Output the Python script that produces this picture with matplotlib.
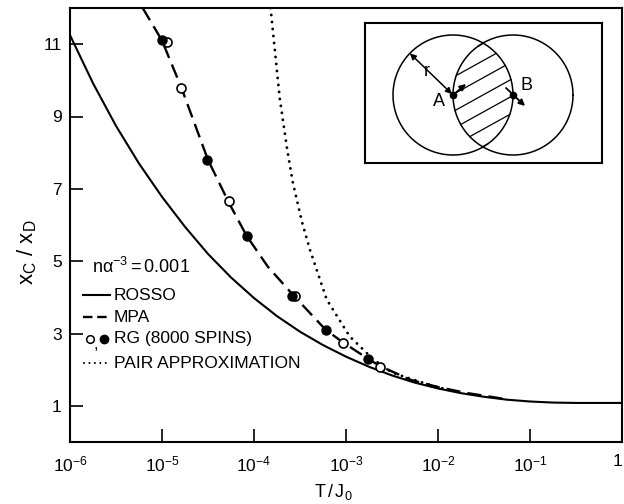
import numpy as np
import matplotlib
matplotlib.use("Agg")
import matplotlib.pyplot as plt
from matplotlib.ticker import FixedLocator, FixedFormatter, NullLocator

plt.rcParams['font.family'] = ['Liberation Sans', 'DejaVu Sans']
plt.rcParams['mathtext.fontset'] = 'custom'
plt.rcParams['mathtext.rm'] = 'Liberation Sans'
plt.rcParams['mathtext.it'] = 'Liberation Sans:italic'

# ---------------- data (x given as log10(T/J0)) ----------------
rosso_logT = [-6.0, -5.75, -5.5, -5.25, -5.0, -4.75, -4.5, -4.25, -4.0, -3.75, -3.5,
              -3.25, -3.0, -2.75, -2.5, -2.25, -2.0, -1.75, -1.5, -1.25, -1.0,
              -0.75, -0.5, 0.0]
rosso_y = [11.25, 9.92, 8.74, 7.7, 6.78, 5.95, 5.2, 4.55, 3.98, 3.48, 3.05,
           2.68, 2.36, 2.08, 1.84, 1.64, 1.48, 1.35, 1.25, 1.17, 1.12,
           1.09, 1.08, 1.08]

mpa_logT = [-5.21, -5.0, -4.79, -4.5, -4.27, -4.08, -3.85, -3.57, -3.22, -3.03,
            -2.76, -2.63, -2.3, -2.0, -1.7, -1.3]
mpa_y = [12.0, 11.1, 9.8, 7.8, 6.6, 5.7, 4.85, 4.05, 3.1, 2.75,
         2.3, 2.1, 1.72, 1.52, 1.36, 1.2]

pair_logT = [-3.82, -3.72, -3.64, -3.58, -3.48, -3.39, -3.21, -2.96, -2.71,
             -2.5, -2.3, -2.09, -1.9]
pair_y = [12.0, 9.5, 8.1, 7.2, 6.1, 5.3, 3.94, 2.92, 2.3,
          1.92, 1.75, 1.58, 1.45]

rg_open_logT = [-4.95, -4.79, -4.27, -3.55, -3.03, -2.63]
rg_open_y = [11.06, 9.78, 6.67, 4.05, 2.75, 2.08]
rg_fill_logT = [-5.0, -4.51, -4.08, -3.59, -3.22, -2.76]
rg_fill_y = [11.11, 7.8, 5.69, 4.03, 3.11, 2.3]

xtick_logT = [-6, -5, -4, -3, -2, -1, 0]
xtick_labels = [r'$\mathregular{10^{-6}}$', r'$\mathregular{10^{-5}}$',
                r'$\mathregular{10^{-4}}$', r'$\mathregular{10^{-3}}$',
                r'$\mathregular{10^{-2}}$', r'$\mathregular{10^{-1}}$', '1']
ytick_vals = [1, 3, 5, 7, 9, 11]
ytick_labels = ['1', '3', '5', '7', '9', '11']

legend_labels = ['ROSSO', 'MPA', 'RG (8000 SPINS)', 'PAIR APPROXIMATION']
density_label = r'$\mathregular{n\alpha^{-3}=0.001}$'

# ---------------- figure ----------------
fig = plt.figure(figsize=(6.24, 5.04), dpi=100)
ax = fig.add_axes([70/624, 62/504, 552/624, 434/504])

def T(v):
    return 10.0 ** np.asarray(v, dtype=float)

ax.plot(T(rosso_logT), rosso_y, color='black', lw=1.5, solid_capstyle='round',
        solid_joinstyle='round')
ax.plot(T(mpa_logT), mpa_y, color='black', lw=1.7, dashes=(6, 3))
ax.plot(T(pair_logT), pair_y, color='black', lw=2.1, linestyle=(0, (0.01, 2.4)),
        dash_capstyle='round')
ax.plot(T(rg_open_logT), rg_open_y, 'o', ms=6.5, mfc='white', mec='black', mew=1.2,
        zorder=5)
ax.plot(T(rg_fill_logT), rg_fill_y, 'o', ms=6.5, mfc='black', mec='black', zorder=6)

ax.set_xscale('log')
ax.set_xlim(1e-6, 1.0)
ax.set_ylim(0, 12)
ax.xaxis.set_major_locator(FixedLocator(list(T(xtick_logT))))
ax.xaxis.set_major_formatter(FixedFormatter(xtick_labels))
ax.xaxis.set_minor_locator(NullLocator())
ax.yaxis.set_major_locator(FixedLocator(ytick_vals))
ax.yaxis.set_major_formatter(FixedFormatter(ytick_labels))
ax.yaxis.set_minor_locator(NullLocator())
ax.tick_params(direction='in', length=9.5, width=1.2, labelsize=12.5, colors='black')
ax.tick_params(axis='x', pad=9)
ax.tick_params(axis='y', pad=6)
for s in ax.spines.values():
    s.set_linewidth(1.5)

fig.text(333/624, 1 - 492/504, r'$\mathregular{T\,/\,J_0}$', fontsize=13,
         ha='center', va='center')
fig.text(27/624, 1 - 252/504, r'$\mathregular{x_C\ /\ x_D}$', fontsize=16,
         ha='center', va='center', rotation=90)

# ---------------- manual legend ----------------
def fx(px):
    return (px - 70) / 552.0

def fy(py):
    return (442 - py) / 434.0

ax.text(fx(92), fy(267), density_label, transform=ax.transAxes, fontsize=13,
        ha='left', va='center')
rows = [295, 317, 339, 363]
ax.plot([fx(83), fx(110)], [fy(rows[0])] * 2, transform=ax.transAxes, color='black', lw=1.5)
ax.plot([fx(83), fx(110)], [fy(rows[1])] * 2, transform=ax.transAxes, color='black', lw=1.7,
        dashes=(4, 2))
ax.plot([fx(90)], [fy(rows[2])], 'o', transform=ax.transAxes, ms=5.5, mfc='white',
        mec='black', mew=1.1)
ax.text(fx(94), fy(rows[2]) - 0.012, ',', transform=ax.transAxes, fontsize=12,
        ha='left', va='center')
ax.plot([fx(104)], [fy(rows[2])], 'o', transform=ax.transAxes, ms=6, mfc='black', mec='black')
ax.plot([fx(84), fx(110)], [fy(rows[3])] * 2, transform=ax.transAxes, color='black', lw=1.5,
        linestyle=(0, (0.01, 2.6)), dash_capstyle='round')
for r, lab in zip(rows, legend_labels):
    ax.text(fx(114), fy(r), lab, transform=ax.transAxes, fontsize=12.5,
            ha='left', va='center')

# ---------------- inset ----------------
ins = fig.add_axes([365/624, 1 - 163/504, 237/624, 140/504])
ins.set_xlim(0, 237)
ins.set_ylim(0, 140)
ins.set_xticks([])
ins.set_yticks([])
for s in ins.spines.values():
    s.set_linewidth(1.5)

A = np.array([88.0, 68.0])
B = np.array([148.0, 68.0])
R = 60.0
th = np.linspace(0, 2 * np.pi, 400)
for c in (A, B):
    ins.plot(c[0] + R * np.cos(th), c[1] + R * np.sin(th), color='black', lw=1.1)

ang = np.deg2rad(29)
d = np.array([np.cos(ang), np.sin(ang)])
nrm = np.array([-np.sin(ang), np.cos(ang)])
mid = (A + B) / 2
t = np.linspace(-90, 90, 900)
for off in np.arange(-45, 46, 15):
    pts = mid[None, :] + t[:, None] * d[None, :] + off * nrm[None, :]
    inside = (np.hypot(*(pts - A).T) < R) & (np.hypot(*(pts - B).T) < R)
    xs = np.where(inside, pts[:, 0], np.nan)
    ys = np.where(inside, pts[:, 1], np.nan)
    ins.plot(xs, ys, color='black', lw=0.9)

ins.plot([A[0], B[0]], [A[1], B[1]], 'o', color='black', ms=4.5)
edge = A + R * np.array([np.cos(np.deg2rad(136)), np.sin(np.deg2rad(136))])
ins.annotate('', xy=tuple(edge), xytext=tuple(A),
             arrowprops=dict(arrowstyle='<|-|>', color='black', lw=1.1,
                             mutation_scale=9, shrinkA=1, shrinkB=0))
ins.annotate('', xy=(101, 79), xytext=tuple(A),
             arrowprops=dict(arrowstyle='-|>', color='black', lw=1.3,
                             mutation_scale=9, shrinkA=0, shrinkB=0))
ins.annotate('', xy=(160, 57), xytext=(141, 75),
             arrowprops=dict(arrowstyle='-|>', color='black', lw=1.3,
                             mutation_scale=9, shrinkA=0, shrinkB=0))
ins.text(62, 92, 'r', fontsize=13, ha='center', va='center')
ins.text(74, 61, 'A', fontsize=13, ha='center', va='center')
ins.text(161, 78, 'B', fontsize=13, ha='center', va='center')

fig.canvas.draw()
labs = ax.get_xticklabels()
labs[-1].set_horizontalalignment('right')

fig.savefig('out.png', dpi=100, facecolor='white')
